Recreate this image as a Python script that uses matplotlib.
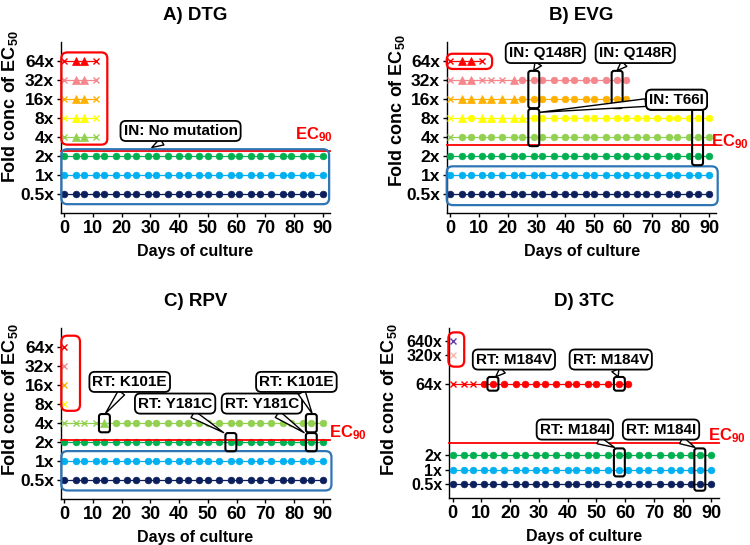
import matplotlib
matplotlib.use('Agg')
import matplotlib.pyplot as plt
from matplotlib.patches import FancyBboxPatch
from matplotlib.transforms import blended_transform_factory

plt.rcParams['font.family'] = ['Liberation Sans', 'DejaVu Sans']
plt.rcParams['font.weight'] = 'bold'
plt.rcParams['mathtext.fontset'] = 'custom'
plt.rcParams['mathtext.rm'] = 'Liberation Sans:bold'
plt.rcParams['mathtext.it'] = 'Liberation Sans:bold'
plt.rcParams['mathtext.bf'] = 'Liberation Sans:bold'

# ── data ──────────────────────────────────────────────
DAYS = [0, 4, 7, 11, 14, 18, 22, 25, 29, 32, 36, 40, 43,
        47, 50, 54, 58, 61, 65, 68, 72, 76, 79, 83, 86, 90]

LEVELS = ['0.5x', '1x', '2x', '4x', '8x', '16x', '32x', '64x']
LEVELS_3TC = ['0.5x', '1x', '2x', '64x', '320x', '640x']

# one code per sampling day: x = cross, ^ = triangle, o = circle
DTG_MARKS = {
    '64x': 'x^^x',
    '32x': 'x^^x',
    '16x': 'x^^x',
    '8x': 'x^^x',
    '4x': 'x^^x',
    '2x': 'oooooooooo' 'oooooooooo' 'oooooo',
    '1x': 'oooooooooo' 'oooooooooo' 'oooooo',
    '0.5x': 'oooooooooo' 'oooooooooo' 'oooooo',
}
EVG_MARKS = {
    '64x': 'x^^x',
    '32x': 'x^^xxx^' 'ooooooooooo',
    '16x': 'x^^^^^^' 'ooooooooooo',
    '8x': 'x^o^^^^^' 'oooooooooo' 'oooooooo',
    '4x': 'xooooooooo' 'oooooooooo' 'oooooo',
    '2x': 'oooooooooo' 'oooooooooo' 'oooooo',
    '1x': 'oooooooooo' 'oooooooooo' 'oooooo',
    '0.5x': 'oooooooooo' 'oooooooooo' 'oooooo',
}
RPV_MARKS = {
    '64x': 'x',
    '32x': 'x',
    '16x': 'x',
    '8x': 'x',
    '4x': 'xxxx^ooooo' 'oooooooooo' 'oooooo',
    '2x': 'oooooooooo' 'oooooooooo' 'oooooo',
    '1x': 'oooooooooo' 'oooooooooo' 'oooooo',
    '0.5x': 'oooooooooo' 'oooooooooo' 'oooooo',
}
TC_MARKS = {
    '640x': 'x',
    '320x': 'x',
    '64x': 'xxxooooooo' 'oooooooo',
    '2x': 'oooooooooo' 'oooooooooo' 'oooooo',
    '1x': 'oooooooooo' 'oooooooooo' 'oooooo',
    '0.5x': 'oooooooooo' 'oooooooooo' 'oooooo',
}

# EC90 on the fold-concentration axis
EC90 = {'DTG': 2.25, 'EVG': 2.58, 'RPV': 2.12, '3TC': 2.86}

COLORS = {
    '640x': '#6A3CA8', '320x': '#F5B9A8',
    '64x': '#FF0000', '32x': '#F4868C', '16x': '#FFB000', '8x': '#FFFF00',
    '4x': '#92D050', '2x': '#00B050', '1x': '#00B0F0', '0.5x': '#0B1F5C',
}

# ── layout helpers ────────────────────────────────────
W, H = 750, 545
XLIM = (-1.2, 92.5)
RED = '#FF0000'
BLUE = '#2E75B6'


def ypos_of(levels, positions):
    return dict(zip(levels, positions))


def rbox(ax, x0, y0, x1, y1, color, lw=1.6, r_px=6):
    # rounded box in data coords, corners kept round on screen
    bb = ax.get_position()
    px_x = bb.width * W / (XLIM[1] - XLIM[0])
    ylo, yhi = ax.get_ylim()
    px_y = bb.height * H / (yhi - ylo)
    p = FancyBboxPatch((x0, y0), x1 - x0, y1 - y0,
                       boxstyle='round,pad=0,rounding_size=%f' % (r_px / px_x),
                       mutation_aspect=px_x / px_y,
                       fc='none', ec=color, lw=lw, clip_on=False, zorder=5)
    ax.add_patch(p)


def mark(ax, i, lo, hi, w=3.8):
    rbox(ax, DAYS[i] - w / 2, lo - 0.48, DAYS[i] + w / 2, hi + 0.48,
         'black', lw=1.5, r_px=2.5)


def callout(ax, text, xy_box, tips):
    for tip in tips:
        ax.annotate(text, xy=tip, xytext=xy_box, ha='center', va='center',
                    fontsize=11, fontweight='bold', zorder=8,
                    bbox=dict(boxstyle='round,pad=0.2,rounding_size=0.35',
                              fc='white', ec='black', lw=1.3),
                    arrowprops=dict(arrowstyle='wedge,tail_width=0.5,shrink_factor=0.5',
                                    fc='white', ec='black', lw=1.0,
                                    shrinkA=0, shrinkB=0),
                    annotation_clip=False)


def ec90_label(ax, x, y, ha, xfig=False):
    tr = blended_transform_factory(fig.transFigure, ax.transData) if xfig else ax.transData
    ax.text(x, y, r'EC$_{90}$', ha=ha, va='center', transform=tr, color=RED,
            fontsize=12, fontweight='bold', clip_on=False)


def draw_panel(ax, title, marks, ypos, ec90, ylim, ysize=12.5):
    ax.set_xlim(*XLIM)
    ax.set_ylim(*ylim)
    for lvl, codes in marks.items():
        y = ypos[lvl]
        c = COLORS[lvl]
        xs = DAYS[:len(codes)]
        ax.plot(xs, [y] * len(xs), '-', color=c, lw=0.9, zorder=2)
        for code, m, ms, mew in (('x', 'x', 4.2, 1.0), ('^', '^', 5.2, 0.5),
                                 ('o', 'o', 4.8, 0.5)):
            px = [d for d, k in zip(xs, codes) if k == code]
            if px:
                ax.plot(px, [y] * len(px), ls='none', marker=m, ms=ms,
                        color=c, mec=c, mew=mew, zorder=3)
    ax.axhline(ec90, color=RED, lw=1.3, zorder=4, clip_on=False)
    ax.set_title(title, fontsize=13.5, fontweight='bold', pad=16)
    ax.set_xticks(range(0, 91, 10))
    ax.tick_params(axis='x', labelsize=13, length=3, width=1, pad=2)
    ax.tick_params(axis='y', labelsize=ysize, length=3, width=1, pad=2)
    ax.spines['top'].set_visible(False)
    ax.spines['right'].set_visible(False)
    ax.spines['left'].set_linewidth(1.0)
    ax.spines['bottom'].set_linewidth(1.0)
    ax.set_xlabel('Days of culture', fontsize=11.5, fontweight='bold', labelpad=5)
    ax.set_ylabel(r'Fold conc of EC$_{50}$', fontsize=13, fontweight='bold')


fig = plt.figure(figsize=(W / 100, H / 100), dpi=100)
axA = fig.add_axes([0.081, 0.609, 0.359, 0.314])
axB = fig.add_axes([0.596, 0.609, 0.359, 0.314])
axC = fig.add_axes([0.081, 0.084, 0.359, 0.314])
axD = fig.add_axes([0.599, 0.086, 0.359, 0.312])

std_pos = ypos_of(LEVELS, [0, 1, 2, 3, 4, 5, 6, 7])
tc_pos = ypos_of(LEVELS_3TC, [0, 1, 2, 7, 9, 10])

for ax, title, marks, key, ly in ((axA, 'A) DTG', DTG_MARKS, 'DTG', 0.62),
                                  (axB, 'B) EVG', EVG_MARKS, 'EVG', 0.6),
                                  (axC, 'C) RPV', RPV_MARKS, 'RPV', 0.58)):
    draw_panel(ax, title, marks, std_pos, EC90[key], (-1, 8))
    ax.set_yticks([std_pos[l] for l in LEVELS])
    ax.set_yticklabels(LEVELS)
    ax.yaxis.set_label_coords(-0.15, ly)

draw_panel(axD, 'D) 3TC', TC_MARKS, tc_pos, EC90['3TC'], (-1, 10.9), ysize=11.5)
axD.set_yticks([tc_pos[l] for l in LEVELS_3TC])
axD.set_yticklabels(LEVELS_3TC)
axD.yaxis.set_label_coords(-0.185, 0.58)

for ax in (axA, axB, axC, axD):
    for lab in ax.get_xticklabels() + ax.get_yticklabels():
        lab.set_fontweight('bold')

# A) DTG
rbox(axA, -1.0, 2.6, 15.0, 7.45, RED)
rbox(axA, -1.0, -0.53, 92.2, 2.36, BLUE)
ec90_label(axA, 93.5, 3.1, 'right')
callout(axA, 'IN: No mutation', (40.5, 3.32), [(30.5, 2.45)])

# B) EVG
rbox(axB, -1.3, 6.58, 14.5, 7.38, RED)
rbox(axB, -1.3, -0.58, 93.0, 1.46, BLUE)
ec90_label(axB, 0.999, 2.75, 'right', xfig=True)
mark(axB, 8, 5, 6)
mark(axB, 8, 3, 4)
mark(axB, 16, 5, 6)
mark(axB, 24, 2, 4)
callout(axB, 'IN: Q148R', (33.0, 7.42), [(29.0, 6.5)])
callout(axB, 'IN: Q148R', (64.3, 7.42), [(58.0, 6.5)])
callout(axB, 'IN: T66I', (78.7, 4.96), [(31.0, 4.3), (86.0, 4.45)])

# C) RPV
rbox(axC, -1.0, 3.65, 5.5, 7.6, RED)
rbox(axC, -1.0, -0.54, 93.0, 1.53, BLUE)
ec90_label(axC, 92.3, 2.5, 'left')
mark(axC, 4, 3, 3)
mark(axC, 16, 2, 2)
mark(axC, 24, 3, 3)
mark(axC, 24, 2, 2)
callout(axC, 'RT: K101E', (22.8, 5.17), [(14.3, 3.5)])
callout(axC, 'RT: Y181C', (38.6, 4.03), [(55.5, 2.5)])
callout(axC, 'RT: Y181C', (68.8, 4.03), [(83.5, 2.5)])
callout(axC, 'RT: K101E', (80.8, 5.17), [(86.3, 3.5)])

# D) 3TC
rbox(axD, -1.5, 8.2, 4.0, 10.6, RED)
ec90_label(axD, 89.0, 3.35, 'left')
mark(axD, 4, 7, 7)
mark(axD, 16, 7, 7)
mark(axD, 16, 1, 2)
mark(axD, 24, 0, 2)
callout(axD, 'RT: M184V', (21.3, 8.7), [(15.0, 7.5)])
callout(axD, 'RT: M184V', (55.0, 8.7), [(57.6, 7.5)])
callout(axD, 'RT: M184I', (42.5, 3.8), [(56.3, 2.55)])
callout(axD, 'RT: M184I', (72.5, 3.8), [(84.3, 2.55)])

fig.savefig('out.png', dpi=100)
